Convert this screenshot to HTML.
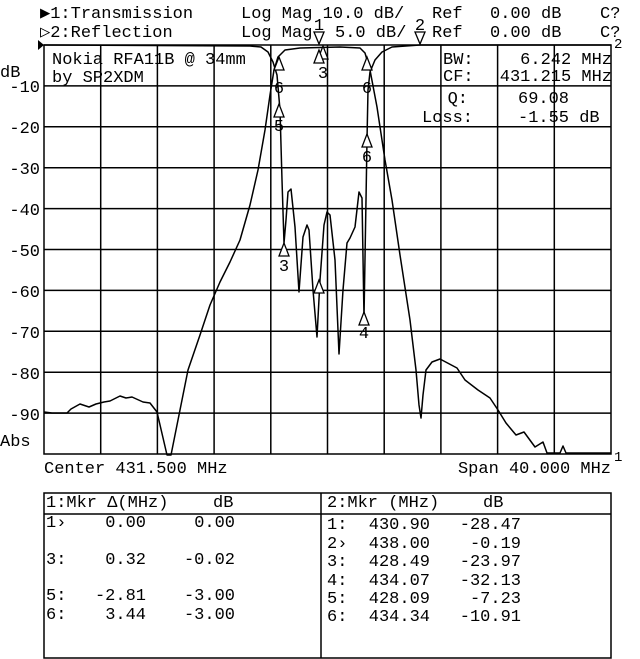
<!DOCTYPE html>
<html><head><meta charset="utf-8"><style>
html,body{margin:0;padding:0;background:#fff;}
svg{display:block;}
text{font-family:"Liberation Mono","DejaVu Sans Mono",monospace;font-size:17px;fill:#000;}
</style></head><body>
<svg width="640" height="659" viewBox="0 0 640 659" xmlns="http://www.w3.org/2000/svg">
<!-- header -->
<text x="40" y="18">▶1:Transmission</text>
<text x="241" y="18">Log Mag  10.0 dB/</text>
<text x="432" y="18">Ref</text>
<text x="490" y="18">0.00 dB</text>
<text x="600" y="18">C?</text>
<text x="40" y="37">▷2:Reflection</text>
<text x="241" y="37">Log Mag</text>
<text x="335" y="37">5.0 dB/</text>
<text x="432" y="37">Ref</text>
<text x="490" y="37">0.00 dB</text>
<text x="600" y="37">C?</text>
<!-- grid -->
<g stroke="#000" stroke-width="1.5" fill="none">
<rect x="44" y="45" width="567" height="409"/>
<path d="M100.7,45V454M157.4,45V454M214.1,45V454M270.8,45V454M327.5,45V454M384.2,45V454M440.9,45V454M497.6,45V454M554.3,45V454
M44,85.9H611M44,126.8H611M44,167.7H611M44,208.6H611M44,249.5H611M44,290.4H611M44,331.3H611M44,372.2H611M44,413.1H611"/>
</g>
<!-- axis labels -->
<text x="0" y="77">dB</text>
<g text-anchor="end">
<text x="40" y="92">-10</text><text x="40" y="133">-20</text><text x="40" y="174">-30</text>
<text x="40" y="215">-40</text><text x="40" y="256">-50</text><text x="40" y="297">-60</text>
<text x="40" y="338">-70</text><text x="40" y="379">-80</text><text x="40" y="420">-90</text>
</g>
<text x="0" y="446">Abs</text>
<text x="44" y="473">Center 431.500 MHz</text>
<text x="611" y="473" text-anchor="end">Span 40.000 MHz</text>
<text x="614" y="461" style="font-size:14px">1</text>
<text x="614" y="48" style="font-size:14px">2</text>
<path d="M38,40 L44,45 L38,50Z" fill="#000"/>
<!-- in-plot text -->
<text x="52" y="64">Nokia RFA11B @ 34mm</text>
<text x="52" y="82">by SP2XDM</text>
<text x="443" y="64">BW:</text><text x="612" y="64" text-anchor="end">6.242 MHz</text>
<text x="443" y="81">CF:</text><text x="612" y="81" text-anchor="end">431.215 MHz</text>
<text x="468" y="103" text-anchor="end">Q:</text><text x="518" y="103">69.08</text>
<text x="422" y="122">Loss:</text><text x="518" y="122">-1.55 dB</text>
<!-- traces -->
<g fill="none" stroke="#000" stroke-width="1.5" stroke-linejoin="round">
<path d="M44,412 L52,413 L67,413 L71,409 L80,404 L89,407 L96,404 L104,402 L110,401 L120,396 L126,398 L132,397 L143,402 L150,403 L157,412 L167,455 L171,455 L180,410 L188,370 L200,335 L210,305 L220,282 L230,262 L240,240 L250,205 L258,170 L265,130 L270,95 L274,70 L278,57 L285,50 L300,48 L340,47 L360,48 L365,53 L370,70 L377,107 L385,160 L392,200 L400,255 L410,320 L416,370 L419,405 L421,418 L423,395 L426,370 L432,362 L440,359 L457,368 L465,380 L478,390 L490,398 L498,410 L506,423 L516,435 L524,432 L535,447 L543,442 L547,453 L560,453 L563,446 L566,453 L611,453"/>
<path d="M44,45 L250,46 L261,47 L268,52 L273,62 L277,75 L280,110 L282,180 L284,243 L286,220 L288,192 L291,189 L295,227 L299,292 L303,237 L307,225 L309,230 L313,290 L317,337 L320,280 L324,225 L327,212 L330,215 L335,260 L339,354 L343,290 L347,243 L350,238 L355,227 L359,192 L362,198 L364,317 L366,200 L367,140 L368,90 L370,72 L375,60 L382,52 L392,47 L420,45 L611,45"/>
</g>
<!-- markers -->
<g fill="#fff" stroke="#000" stroke-width="1.3">
<path d="M284,243 l-5,13 h10z"/>
<path d="M319,280 l-5,13 h10z"/>
<path d="M364,312 l-5,13 h10z"/>
<path d="M279,104 l-5,13 h10z"/>
<path d="M367,134 l-5,13 h10z"/>
<path d="M279,57 l-5,13 h10z"/>
<path d="M367,57 l-5,13 h10z"/>
<path d="M323,46 l-5,13 h10z"/>
<path d="M319,50 l-5,13 h10z"/>
<path d="M319,44 l-5,-12 h10z"/>
<path d="M420,44 l-5,-12 h10z"/>
</g>
<g style="font-size:13px" text-anchor="middle">
<text x="284" y="271">3</text><text x="364" y="338">4</text>
<text x="279" y="131">5</text><text x="367" y="162">6</text>
<text x="279" y="93">6</text><text x="367" y="93">6</text>
<text x="323" y="78">3</text>
<text x="319" y="30">1</text><text x="420" y="30">2</text>
</g>
<!-- table -->
<g stroke="#000" stroke-width="1.5" fill="none">
<rect x="44" y="493" width="567" height="165"/>
<path d="M321,493V658M44,514H611"/>
</g>
<text x="46" y="507">1:Mkr Δ(MHz)</text><text x="213" y="507">dB</text>
<text x="46" y="527">1›</text><text x="146" y="527" text-anchor="end">0.00</text><text x="235" y="527" text-anchor="end">0.00</text>
<text x="46" y="564">3:</text><text x="146" y="564" text-anchor="end">0.32</text><text x="235" y="564" text-anchor="end">-0.02</text>
<text x="46" y="600">5:</text><text x="146" y="600" text-anchor="end">-2.81</text><text x="235" y="600" text-anchor="end">-3.00</text>
<text x="46" y="619">6:</text><text x="146" y="619" text-anchor="end">3.44</text><text x="235" y="619" text-anchor="end">-3.00</text>
<text x="327" y="507">2:Mkr (MHz)</text><text x="483" y="507">dB</text>
<g>
<text x="327" y="529">1:</text><text x="430" y="529" text-anchor="end">430.90</text><text x="521" y="529" text-anchor="end">-28.47</text>
<text x="327" y="548">2›</text><text x="430" y="548" text-anchor="end">438.00</text><text x="521" y="548" text-anchor="end">-0.19</text>
<text x="327" y="566">3:</text><text x="430" y="566" text-anchor="end">428.49</text><text x="521" y="566" text-anchor="end">-23.97</text>
<text x="327" y="585">4:</text><text x="430" y="585" text-anchor="end">434.07</text><text x="521" y="585" text-anchor="end">-32.13</text>
<text x="327" y="603">5:</text><text x="430" y="603" text-anchor="end">428.09</text><text x="521" y="603" text-anchor="end">-7.23</text>
<text x="327" y="621">6:</text><text x="430" y="621" text-anchor="end">434.34</text><text x="521" y="621" text-anchor="end">-10.91</text>
</g>
</svg>
</body></html>
